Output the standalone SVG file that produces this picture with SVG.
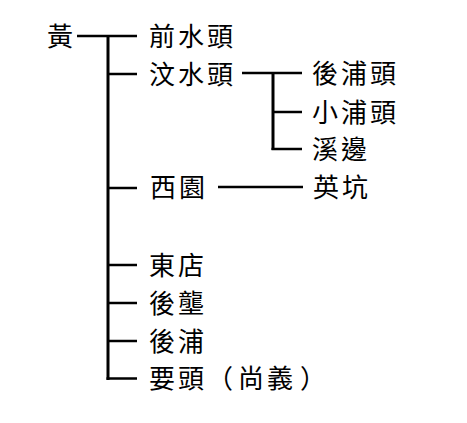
<svg xmlns="http://www.w3.org/2000/svg" width="467" height="423" viewBox="0 0 467 423">
<style>
text{font-family:"Noto Sans CJK TC","Noto Sans CJK SC",sans-serif;font-size:26px;letter-spacing:3px;fill:#000}
.c line{stroke:#000;stroke-width:2.5;stroke-linecap:butt}
.c .t{stroke-width:3}
</style>
<rect width="467" height="423" fill="#fff"/>
<g class="c" id="connectors">
<line x1="77" y1="36" x2="137" y2="36"/>
<line class="t" x1="108" y1="35" x2="108" y2="380"/>
<line x1="108" y1="74" x2="137" y2="74"/>
<line x1="108" y1="188" x2="137" y2="188"/>
<line x1="108" y1="265" x2="137" y2="265"/>
<line x1="108" y1="303" x2="137" y2="303"/>
<line x1="108" y1="341" x2="137" y2="341"/>
<line x1="106.5" y1="378.5" x2="137" y2="378.5"/>
<line x1="242" y1="73" x2="302" y2="73"/>
<line class="t" x1="273" y1="72" x2="273" y2="150"/>
<line x1="273" y1="112" x2="302" y2="112"/>
<line x1="271.5" y1="149" x2="302" y2="149"/>
<line x1="218" y1="187" x2="303" y2="187"/>
</g>
<g id="n-huang"><text x="47" y="46">黃</text></g>
<g id="n-qianshuitou"><text x="149" y="46">前水頭</text></g>
<g id="n-wenshuitou"><text x="149" y="84">汶水頭</text></g>
<g id="n-houputou"><text x="312" y="83">後浦頭</text></g>
<g id="n-xiaoputou"><text x="312" y="122">小浦頭</text></g>
<g id="n-xibian"><text x="312" y="159">溪邊</text></g>
<g id="n-xiyuan"><text x="150" y="197">西園</text></g>
<g id="n-yingkeng"><text x="313" y="197">英坑</text></g>
<g id="n-dongdian"><text x="149" y="275">東店</text></g>
<g id="n-houlong"><text x="149" y="313">後壟</text></g>
<g id="n-houpu"><text x="149" y="351">後浦</text></g>
<g id="n-shuatou"><text x="149" y="388">要頭<tspan x="207">（</tspan><tspan x="238">尚義</tspan><tspan x="300">）</tspan></text></g>
</svg>
